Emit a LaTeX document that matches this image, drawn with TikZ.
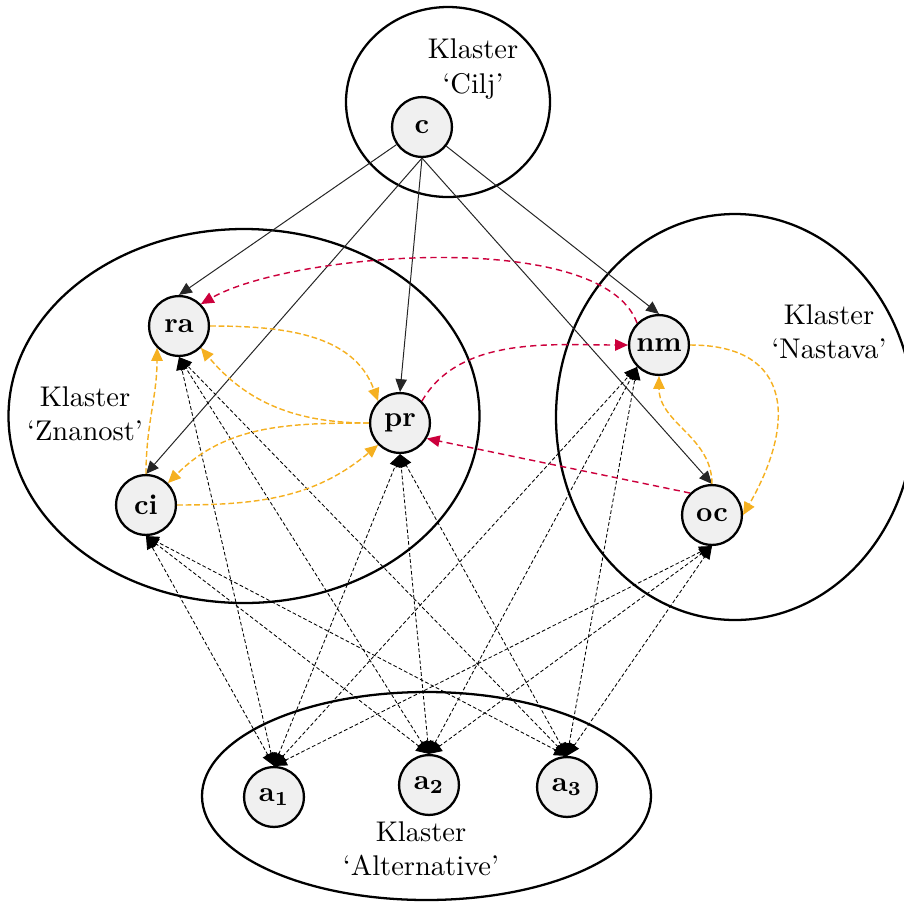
\documentclass[tikz,border=0pt]{standalone}
\usepackage{amssymb}
\usepackage{amsmath}
\usepackage{tikz}
\usetikzlibrary{arrows.meta,positioning}
\usetikzlibrary{calc,fit,shapes}

\begin{document}
\begin{tikzpicture}[x=0.351pt,y=0.351pt]
\colorlet{node area}{black!6}
\definecolor{veza crvena}{RGB}{204,0,60}
\definecolor{veza zuta}{RGB}{245,176,32}
\tikzset{
     crit/.style={circle, draw, thick, fill=node area, minimum size=21pt, inner sep=0pt, font=\bfseries},
     klaster/.style={draw, thick},
     klabel/.style={align=center},
     cilj/.style={-{Triangle[length=4.5pt,width=4pt]}, line width=0.35pt, black!85},
     altveza/.style={{Triangle[length=4.5pt,width=4pt]}-{Triangle[length=4.5pt,width=4pt]}, line width=0.3pt, dash pattern=on 1.3pt off 0.8pt},
     crvena/.style={-{Triangle[length=4.5pt,width=4pt]}, veza crvena, line width=0.5pt, dash pattern=on 2.2pt off 1.5pt},
     zuta/.style={-{Triangle[length=4.5pt,width=4pt]}, veza zuta, line width=0.5pt, dash pattern=on 2pt off 1pt}}

\useasboundingbox (0,0) rectangle (904,-902);

% The clusters
\draw [klaster] (448,-102) ellipse (102 and 95);
\draw [klaster] (244,-416) ellipse (235.5 and 187);
\draw [klaster] (735,-417) ellipse (179 and 203);
\draw [klaster] (426.5,-796) ellipse (224.5 and 104);

\node (lcilj) at (473,-69) [klabel] {Klaster\\`Cilj'};
\node (lznan) at (85,-414) [klabel] {Klaster\\`Znanost'};
\node (lnast) at (829,-332) [klabel] {Klaster\\`Nastava'};
\node (lalt) at (421,-849) [klabel] {Klaster\\`Alternative'};

% The nodes
\node (c) at (422,-127) [crit] {c};
\node (ra) at (179,-326) [crit] {ra};
\node (pr) at (400,-423) [crit] {pr};
\node (ci) at (146,-505) [crit] {ci};
\node (nm) at (659,-345) [crit] {nm};
\node (oc) at (712,-515) [crit] {oc};
\node (a1) at (274,-797) [crit] {a$_{\mathbf{1}}$};
\node (a2) at (429,-785) [crit] {a$_{\mathbf{2}}$};
\node (a3) at (567,-787) [crit] {a$_{\mathbf{3}}$};

% Goal to criteria
\draw [cilj] (c) -- (ra.north);
\draw [cilj] (c.south) -- (ci.north);
\draw [cilj] (c.south) -- (pr.north);
\draw [cilj] (c) -- (nm.north);
\draw [cilj] (c.south) -- (oc.north);

% Alternatives and criteria
\foreach \a in {a1,a2,a3}
  \foreach \k/\s in {ra/south, ci/south, pr/south, nm/south west, oc/south}
    \draw [altveza] (\a.north) -- (\k.\s);

% Between clusters
\draw [crvena] (nm.north west) to[out=110, in=30, looseness=0.6] (ra.north east);
\draw [crvena] (pr.north east) to[out=60, in=180, looseness=0.9] (nm.west);
\draw [crvena] (oc.north west) -- (pr.-30);

% Inside clusters
\draw [zuta] (ra.east) to[out=0, in=110] (pr.north west);
\draw [zuta] (pr.west) to[out=180, in=-50] (ra.south east);
\draw [zuta] (pr.west) to[out=180, in=45] (ci.north east);
\draw [zuta] (ci.east) to[out=0, in=-140] (pr.south west);
\draw [zuta] (ci.north) to[out=90, in=-90] (ra.south west);
\draw [zuta] (oc.north) to[out=90, in=-90] (nm.south);
\draw [zuta] (nm.east) to[out=0, in=60, looseness=1.5] (oc.east);
\end{tikzpicture}
\end{document}
